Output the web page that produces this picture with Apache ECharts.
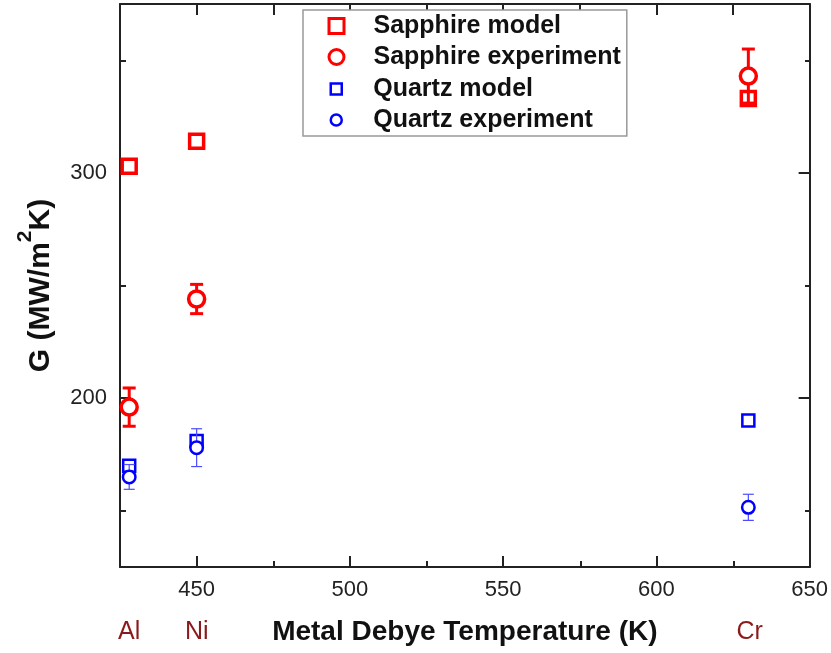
<!DOCTYPE html>
<html>
<head>
<meta charset="utf-8">
<script src="https://cdn.jsdelivr.net/npm/echarts@6/dist/echarts.min.js"></script>
<style>
html,body{margin:0;padding:0;background:#fff;}
#chart{width:831px;height:653px;}
</style>
</head>
<body>
<div id="chart"></div>
<script>
// ---- data ----
const metals = ['Al', 'Ni', 'Cr'];
const debyeT = [428, 450, 630];
const sapphireModel = [303, 314, 333];
const sapphireExp = [196, 244, 343];
const sapphireExpErr = [8.5, 6.5, 12];
const quartzModel = [170, 181, 190];
const quartzExp = [165, 178, 151.5];
const quartzExpErr = [5.5, 8.4, 5.8];
const xLabelTicks = [450, 500, 550, 600, 650];
const xMajorTicks = [450, 500, 550, 600];
const xMinorTicks = [475, 525, 575, 625];
const xTopTicks = [450, 475, 500, 525, 550, 575, 600, 625];
const yLabelTicks = [200, 300];
const yMinorTicks = [150, 250, 350];
const seriesNames = ['Sapphire model', 'Sapphire experiment', 'Quartz model', 'Quartz experiment'];

const FONT = '"Liberation Sans", Arial, sans-serif';
const AXC = '#222';
const RED = '#ff0000';
const BLUE = '#0000ff';
const X_MIN = 425, X_MAX = 650, Y_MIN = 125, Y_MAX = 375;

const pts = (ys) => debyeT.map((x, i) => [x, ys[i]]);
const errPts = (ys, es) => debyeT.map((x, i) => [x, ys[i], es[i]]);

function errorBar(color, width, cap) {
  return function (params, api) {
    const x = api.value(0), y = api.value(1), e = api.value(2);
    const hi = api.coord([x, y + e]);
    const lo = api.coord([x, y - e]);
    const st = { stroke: color, lineWidth: width };
    return {
      type: 'group',
      children: [
        { type: 'line', shape: { x1: hi[0], y1: hi[1], x2: lo[0], y2: lo[1] }, style: st },
        { type: 'line', shape: { x1: hi[0] - cap / 2, y1: hi[1], x2: hi[0] + cap / 2, y2: hi[1] }, style: st },
        { type: 'line', shape: { x1: lo[0] - cap / 2, y1: lo[1], x2: lo[0] + cap / 2, y2: lo[1] }, style: st }
      ]
    };
  };
}

const gridBox = { left: 120, right: 20, top: 4, bottom: 86 };
const lineStyle = { color: AXC, width: 2 };

const option = {
  animation: false,
  backgroundColor: '#fff',
  grid: [Object.assign({}, gridBox), Object.assign({}, gridBox), Object.assign({}, gridBox)],
  xAxis: [
    { // main bottom
      type: 'value', gridIndex: 0, position: 'bottom', min: X_MIN, max: X_MAX,
      axisLine: { show: true, lineStyle: lineStyle },
      axisTick: { show: true, inside: true, length: 11, lineStyle: lineStyle, customValues: xMajorTicks },
      axisLabel: { show: true, customValues: xLabelTicks, fontSize: 22, color: AXC, fontFamily: FONT, margin: 12 },
      splitLine: { show: false },
      name: 'Metal Debye Temperature (K)', nameLocation: 'middle', nameGap: 51, nameMoveOverlap: false,
      nameTextStyle: { fontSize: 28, fontWeight: 'bold', color: '#111', fontFamily: FONT }
    },
    { // top
      type: 'value', gridIndex: 0, position: 'top', min: X_MIN, max: X_MAX,
      axisLine: { show: true, lineStyle: lineStyle },
      axisTick: { show: true, inside: true, length: 11, lineStyle: lineStyle, customValues: xTopTicks },
      axisLabel: { show: false }, splitLine: { show: false }
    },
    { // minor bottom ticks
      type: 'value', gridIndex: 1, position: 'bottom', min: X_MIN, max: X_MAX,
      axisLine: { show: false },
      axisTick: { show: true, inside: true, length: 6, lineStyle: lineStyle, customValues: xMinorTicks },
      axisLabel: { show: false }, splitLine: { show: false }
    },
    { // metal names
      type: 'value', gridIndex: 2, position: 'bottom', min: X_MIN, max: X_MAX,
      axisLine: { show: false }, axisTick: { show: false }, splitLine: { show: false },
      axisLabel: {
        show: true, customValues: debyeT, margin: 53, fontSize: 25, color: '#8b1a1a', fontFamily: FONT,
        formatter: function (v) { const i = debyeT.indexOf(v); return i >= 0 ? metals[i] : ''; }
      }
    }
  ],
  yAxis: [
    { // main left
      type: 'value', gridIndex: 0, position: 'left', min: Y_MIN, max: Y_MAX,
      axisLine: { show: true, lineStyle: lineStyle },
      axisTick: { show: true, inside: true, length: 11, lineStyle: lineStyle, customValues: yLabelTicks },
      axisLabel: { show: true, customValues: yLabelTicks, fontSize: 22, color: AXC, fontFamily: FONT, margin: 13 },
      splitLine: { show: false },
      name: '{a|G (MW/m}{s|2}{a|K)}', nameLocation: 'middle', nameGap: 70, nameMoveOverlap: false,
      nameTextStyle: {
        color: '#111', fontFamily: FONT, fontWeight: 'bold', fontSize: 30,
        rich: {
          a: { fontSize: 30, fontWeight: 'bold', lineHeight: 30, padding: [11, 0, 0, 0], color: '#111', fontFamily: FONT },
          s: { fontSize: 21, fontWeight: 'bold', lineHeight: 21, padding: [0, 0, 20, 0], color: '#111', fontFamily: FONT }
        }
      }
    },
    { // right
      type: 'value', gridIndex: 0, position: 'right', min: Y_MIN, max: Y_MAX,
      axisLine: { show: true, lineStyle: lineStyle },
      axisTick: { show: true, inside: true, length: 11, lineStyle: lineStyle, customValues: yLabelTicks },
      axisLabel: { show: false }, splitLine: { show: false }
    },
    { // minor left
      type: 'value', gridIndex: 1, position: 'left', min: Y_MIN, max: Y_MAX,
      axisLine: { show: false },
      axisTick: { show: true, inside: true, length: 6, lineStyle: lineStyle, customValues: yMinorTicks },
      axisLabel: { show: false }, splitLine: { show: false }
    },
    { // minor right
      type: 'value', gridIndex: 1, position: 'right', min: Y_MIN, max: Y_MAX,
      axisLine: { show: false },
      axisTick: { show: true, inside: true, length: 6, lineStyle: lineStyle, customValues: yMinorTicks },
      axisLabel: { show: false }, splitLine: { show: false }
    },
    { // dummy for metal grid
      type: 'value', gridIndex: 2, min: Y_MIN, max: Y_MAX, show: false
    }
  ],
  legend: [
    {
      data: [
        { name: seriesNames[0], icon: 'rect', itemStyle: { color: '#fff', borderColor: RED, borderWidth: 3 } },
        { name: seriesNames[1], icon: 'circle', itemStyle: { color: '#fff', borderColor: RED, borderWidth: 3 } }
      ],
      orient: 'vertical', left: 303, top: 10,
      itemWidth: 15, itemHeight: 15, itemGap: 6,
      padding: [3.5, 6, 66.5, 24.5],
      borderColor: '#999', borderWidth: 1.5, backgroundColor: '#fff',
      textStyle: { fontSize: 25, fontWeight: 'bold', color: '#111', fontFamily: FONT, lineHeight: 25, padding: [0, 0, 0, 24.5] }
    },
    {
      data: [
        { name: seriesNames[2], icon: 'rect', itemStyle: { color: '#fff', borderColor: BLUE, borderWidth: 2.5 } },
        { name: seriesNames[3], icon: 'circle', itemStyle: { color: '#fff', borderColor: BLUE, borderWidth: 2.5 } }
      ],
      orient: 'vertical', left: 329.5, top: 76.5,
      itemWidth: 11, itemHeight: 11, itemGap: 6, padding: 0,
      textStyle: { fontSize: 25, fontWeight: 'bold', color: '#111', fontFamily: FONT, lineHeight: 25, padding: [0, 0, 0, 26.5] }
    }
  ],
  series: [
    {
      name: seriesNames[0], type: 'scatter', xAxisIndex: 0, yAxisIndex: 0, z: 2,
      data: pts(sapphireModel), symbol: 'rect', symbolSize: 14,
      itemStyle: { color: '#fff', borderColor: RED, borderWidth: 3.5, opacity: 1 }
    },
    {
      name: seriesNames[2], type: 'scatter', xAxisIndex: 0, yAxisIndex: 0, z: 2,
      data: pts(quartzModel), symbol: 'rect', symbolSize: 12,
      itemStyle: { color: '#fff', borderColor: BLUE, borderWidth: 2.5, opacity: 1 }
    },
    {
      name: 'Sapphire experiment error', type: 'custom', xAxisIndex: 0, yAxisIndex: 0, z: 3,
      data: errPts(sapphireExp, sapphireExpErr), renderItem: errorBar(RED, 3, 13), silent: true
    },
    {
      name: 'Quartz experiment error', type: 'custom', xAxisIndex: 0, yAxisIndex: 0, z: 3,
      data: errPts(quartzExp, quartzExpErr), renderItem: errorBar('#4d4dff', 1.2, 11), silent: true
    },
    {
      name: seriesNames[1], type: 'scatter', xAxisIndex: 0, yAxisIndex: 0, z: 4,
      data: pts(sapphireExp), symbol: 'circle', symbolSize: 16,
      itemStyle: { color: '#fff', borderColor: RED, borderWidth: 3.5, opacity: 1 }
    },
    {
      name: seriesNames[3], type: 'scatter', xAxisIndex: 0, yAxisIndex: 0, z: 4,
      data: pts(quartzExp), symbol: 'circle', symbolSize: 12.5,
      itemStyle: { color: '#fff', borderColor: BLUE, borderWidth: 2.5, opacity: 1 }
    }
  ]
};

const chart = echarts.init(document.getElementById('chart'), null, { renderer: 'canvas' });
chart.setOption(option);
</script>
</body>
</html>
